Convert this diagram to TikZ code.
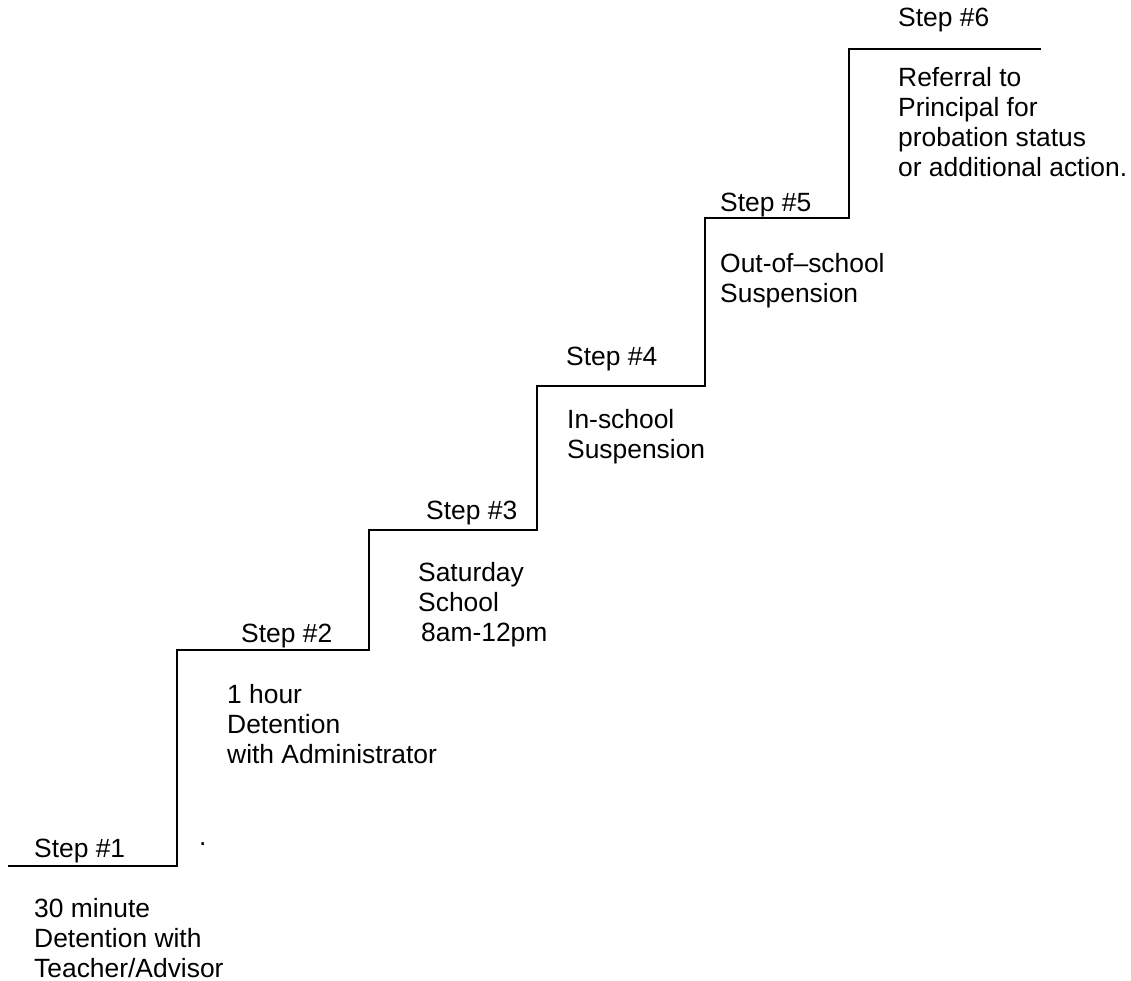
\documentclass[tikz,border=0pt]{standalone}
\usepackage{fontspec}
\setmainfont{Liberation Sans}
\begin{document}
\begin{tikzpicture}[x=1pt,y=-1pt,
  stair/.style={line width=2pt, line join=miter},
  lbl/.style={anchor=base west, inner sep=0pt, align=left,
    font=\fontsize{26.4}{30}\selectfont}]
\useasboundingbox (0,0) rectangle (1131,981);
\draw[stair] (8,866) -- (177,866) -- (177,650) -- (369,650) -- (369,530)
  -- (537,530) -- (537,386) -- (705,386) -- (705,218) -- (849,218)
  -- (849,49) -- (1041,49);
% multi-line labels are anchored at the baseline of their last line
\node[lbl] (s1) at (34,857) {Step \#1};
\node[lbl] (d1) at (34,977) {30 minute\\Detention with\\Teacher/Advisor};
\node[lbl] (dot) at (199,845) {.};
\node[lbl] (s2) at (241,642) {Step \#2};
\node[lbl] (d2) at (227,763) {1 hour\\Detention\\with Administrator};
\node[lbl] (s3) at (426,519) {Step \#3};
\node[lbl] (d3) at (418,641) {Saturday\\School\\\hspace*{3pt}8am-12pm};
\node[lbl] (s4) at (566,365) {Step \#4};
\node[lbl] (d4) at (567,458) {In-school\\Suspension};
\node[lbl] (s5) at (720,212) {Step \#5};
\node[lbl] (d5) at (720,302) {Out-of–school\\Suspension};
\node[lbl] (s6) at (898,27) {Step \#6};
\node[lbl] (d6) at (898,177) {Referral to\\Principal for\\probation status\\or additional action.};
\end{tikzpicture}
\end{document}
